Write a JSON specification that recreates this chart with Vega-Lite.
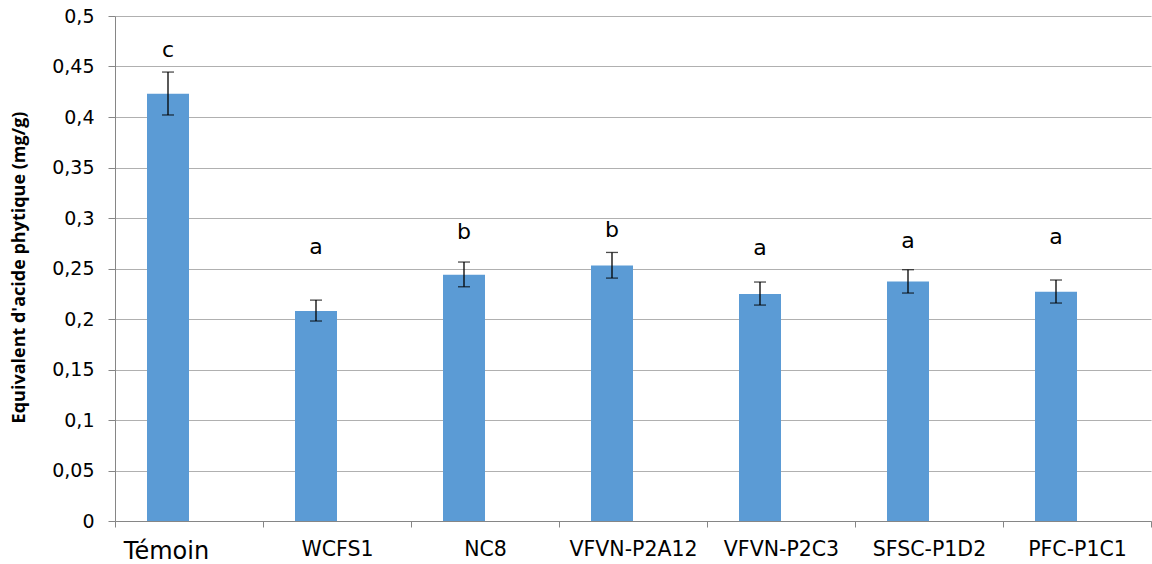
{
  "$schema": "https://vega.github.io/schema/vega-lite/v6.json",
  "autosize": "none",
  "width": 1036,
  "height": 505,
  "padding": {"left": 115, "top": 16, "right": 1, "bottom": 43},
  "background": "white",
  "config": {"view": {"stroke": null}, "font": "DejaVu Sans"},
  "data": {
    "values": [
      {"souche": "Témoin", "serie": "s1", "moy": 0.423, "bas": 0.402, "haut": 0.4445, "groupe": "c", "pos_lettre": 0.459},
      {"souche": "WCFS1", "serie": "s1", "moy": 0.208, "bas": 0.198, "haut": 0.2187, "groupe": "a", "pos_lettre": 0.2646},
      {"souche": "NC8", "serie": "s1", "moy": 0.2438, "bas": 0.2319, "haut": 0.2564, "groupe": "b", "pos_lettre": 0.2792},
      {"souche": "VFVN-P2A12", "serie": "s1", "moy": 0.253, "bas": 0.2405, "haut": 0.2659, "groupe": "b", "pos_lettre": 0.2808},
      {"souche": "VFVN-P2C3", "serie": "s1", "moy": 0.2247, "bas": 0.2138, "haut": 0.2366, "groupe": "a", "pos_lettre": 0.2636},
      {"souche": "SFSC-P1D2", "serie": "s1", "moy": 0.2372, "bas": 0.2257, "haut": 0.2488, "groupe": "a", "pos_lettre": 0.2703},
      {"souche": "PFC-P1C1", "serie": "s1", "moy": 0.227, "bas": 0.2158, "haut": 0.2386, "groupe": "a", "pos_lettre": 0.2742}
    ]
  },
  "encoding": {
    "x": {
      "field": "souche",
      "type": "nominal",
      "sort": null,
      "scale": {"domain": ["Témoin", "WCFS1", "NC8", "VFVN-P2A12", "VFVN-P2C3", "SFSC-P1D2", "PFC-P1C1"], "paddingInner": 0, "paddingOuter": 0},
      "axis": {
        "title": null,
        "labelAngle": 0,
        "tickBand": "extent",
        "tickSize": 6,
        "tickColor": "#868686",
        "domainColor": "#868686",
        "labelColor": "#000000",
        "labelFont": "DejaVu Sans",
        "labelFontSize": {"condition": {"test": "datum.value == 'Témoin'", "value": 24}, "value": 20.5},
        "labelOffset": {"condition": {"test": "datum.value == 'Témoin'", "value": -23}, "value": 0},
        "labelPadding": 12,
        "grid": false
      }
    },
    "xOffset": {
      "field": "serie",
      "type": "nominal",
      "scale": {"domain": ["s1", "s2"], "paddingInner": 0, "paddingOuter": 0.762}
    }
  },
  "layer": [
    {
      "mark": {"type": "bar", "color": "#5B9BD5"},
      "encoding": {
        "y": {
          "field": "moy",
          "type": "quantitative",
          "scale": {"domain": [0, 0.5], "nice": false},
          "axis": {
            "title": "Equivalent d'acide phytique (mg/g)",
            "titleFont": "Open Sans",
            "titleFontSize": 18,
            "titleFontWeight": "bold",
            "titleColor": "#000000",
            "titleX": -96,
            "titleY": 251,
            "titleBaseline": "middle",
            "titleAngle": -90,
            "values": [0, 0.05, 0.1, 0.15, 0.2, 0.25, 0.3, 0.35, 0.4, 0.45, 0.5],
            "format": "~g",
            "labelExpr": "replace(datum.label, '.', ',')",
            "labelFont": "DejaVu Sans",
            "labelFontSize": 19,
            "labelColor": "#000000",
            "labelPadding": 14,
            "tickSize": 7,
            "tickColor": "#868686",
            "domainColor": "#868686",
            "grid": true,
            "gridColor": "#b0b0b0",
            "gridWidth": 1.2
          }
        }
      }
    },
    {
      "mark": {"type": "rule", "color": "#000000", "strokeWidth": 1.3},
      "encoding": {
        "y": {"field": "bas", "type": "quantitative"},
        "y2": {"field": "haut"}
      }
    },
    {
      "mark": {"type": "tick", "color": "#000000", "size": 12, "thickness": 1.3},
      "encoding": {"y": {"field": "bas", "type": "quantitative"}}
    },
    {
      "mark": {"type": "tick", "color": "#000000", "size": 12, "thickness": 1.3},
      "encoding": {"y": {"field": "haut", "type": "quantitative"}}
    },
    {
      "mark": {"type": "text", "font": "DejaVu Sans", "fontSize": 22, "color": "#000000", "baseline": "alphabetic", "align": "center"},
      "encoding": {
        "y": {"field": "pos_lettre", "type": "quantitative"},
        "text": {"field": "groupe", "type": "nominal"}
      }
    }
  ]
}
